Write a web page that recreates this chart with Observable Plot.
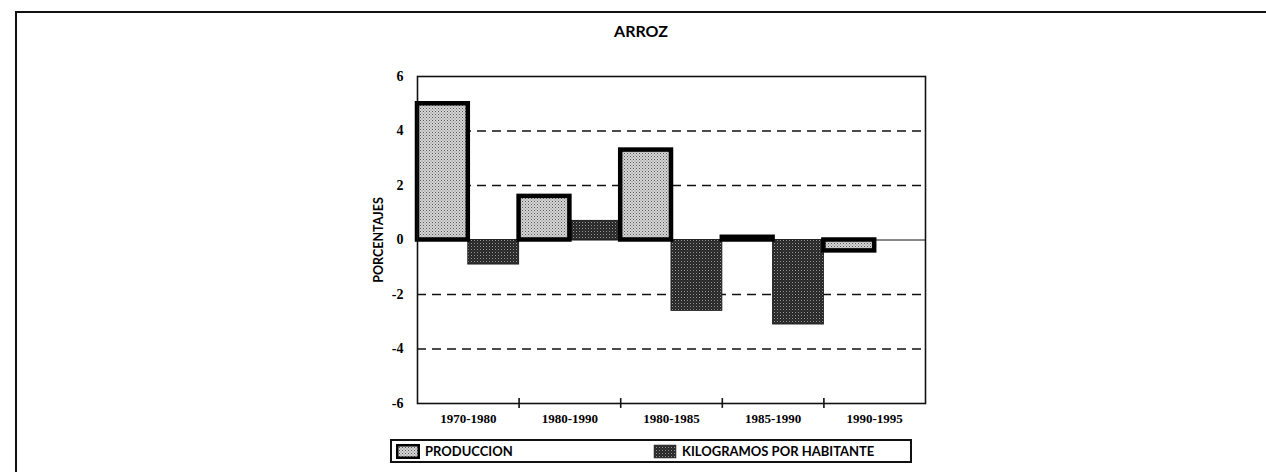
<!DOCTYPE html>
<html>
<head>
<meta charset="utf-8">
<script src="https://cdn.jsdelivr.net/npm/d3@7"></script>
<script src="https://cdn.jsdelivr.net/npm/@observablehq/plot@0.6"></script>
<style>
  html, body { margin: 0; padding: 0; background: #fff; }
  #wrap { position: relative; width: 1266px; height: 472px; overflow: hidden; background: #fff; }
  #frame { position: absolute; left: 15px; top: 11px; width: 1300px; height: 500px;
           border-top: 2px solid #111; border-left: 2px solid #111; }
  #title { position: absolute; left: 541px; width: 200px; top: 21px; text-align: center;
           font: bold 16px Lato, "Open Sans", sans-serif; color: #000; }
  #chart { position: absolute; left: 0; top: 0; }
  #legend { position: absolute; left: 390px; top: 439px; width: 522px; height: 24px;
            border: 2px solid #111; box-sizing: border-box; font: bold 13px Lato, "Open Sans", sans-serif; }
  .item { position: absolute; top: 2px; height: 16px; display: flex; align-items: center; white-space: nowrap; }
  .item svg { margin-right: 5px; }
</style>
</head>
<body>
<div id="wrap">
  <div id="frame"></div>
  <div id="title">ARROZ</div>
  <div id="chart"></div>
  <div id="legend"></div>
</div>
<script>
// ---- data ----
const categories = ["1970-1980", "1980-1990", "1980-1985", "1985-1990", "1990-1995"];
const produccion = [5.0, 1.6, 3.3, 0.1, -0.4];
const kilogramos = [-0.9, 0.7, -2.6, -3.1, null];
const seriesNames = ["PRODUCCION", "KILOGRAMOS POR HABITANTE"];
const yTicks = [-6, -4, -2, 0, 2, 4, 6];
const gridValues = [-4, -2, 2, 4];

const prodRows = categories.map((c, i) => ({cat: c, i, v: produccion[i]})).filter(d => d.v != null);
const kgRows = categories.map((c, i) => ({cat: c, i, v: kilogramos[i]})).filter(d => d.v != null);
const centers = categories.map((c, i) => i + 0.5);
const bounds = categories.slice(1).map((c, i) => i + 1);

const chart = Plot.plot({
  width: 1266,
  height: 472,
  marginLeft: 417,
  marginRight: 341,
  marginTop: 76,
  marginBottom: 69,
  style: {fontFamily: "'Liberation Serif', serif", fontSize: "13px", color: "#000", background: "transparent"},
  x: {domain: [0, categories.length], axis: null},
  y: {domain: [-6, 6], axis: null},
  marks: [
    Plot.ruleY(gridValues, {stroke: "#111", strokeWidth: 1.6, strokeDasharray: "9,6"}),
    Plot.ruleY([0], {stroke: "#111", strokeWidth: 1}),
    Plot.rect(kgRows, {x1: d => d.i + 0.5, x2: d => d.i + 1, y1: 0, y2: "v",
      fill: "url(#kgPat)", stroke: "#222", strokeWidth: 1}),
    Plot.rect(prodRows, {x1: d => d.i, x2: d => d.i + 0.5, y1: 0, y2: "v",
      fill: "url(#prodPat)", stroke: "#000", strokeWidth: 4.5}),
    Plot.frame({stroke: "#111", strokeWidth: 1.6}),
    Plot.ruleX(bounds, {y1: -6.18, y2: -5.82, stroke: "#111", strokeWidth: 1.6}),
    Plot.axisY({ticks: yTicks, tickSize: 0, tickPadding: 14, tickFormat: d => String(d),
      fontWeight: "bold", fontSize: 14, label: null}),
    Plot.axisX({ticks: centers, tickSize: 0, tickPadding: 10, tickFormat: (d) => categories[Math.floor(d)],
      fontWeight: "bold", fontSize: 13, label: null}),
    Plot.text(["PORCENTAJES"], {text: d => d, frameAnchor: "left", dx: -39, rotate: -90, textAnchor: "middle",
      fontFamily: "Lato, 'Open Sans', sans-serif", fontWeight: "bold", fontSize: 12.5})
  ]
});

// texture patterns for the bars
const ns = "http://www.w3.org/2000/svg";
const defs = document.createElementNS(ns, "defs");
defs.innerHTML = `
  <pattern id="prodPat" width="3" height="3" patternUnits="userSpaceOnUse">
    <rect width="3" height="3" fill="#d6d6d6"/>
    <rect x="0" y="0" width="1" height="1" fill="#555"/>
    <rect x="1.5" y="1.5" width="1" height="1" fill="#777"/>
  </pattern>
  <pattern id="kgPat" width="3" height="3" patternUnits="userSpaceOnUse">
    <rect width="3" height="3" fill="#262626"/>
    <rect x="0" y="0" width="1" height="1" fill="#9a9a9a"/>
    <rect x="1.5" y="1.5" width="1" height="1" fill="#555"/>
  </pattern>`;
chart.insertBefore(defs, chart.firstChild);
document.getElementById("chart").appendChild(chart);

// legend
const legend = document.getElementById("legend");
const fills = ["url(#prodPat)", "url(#kgPat)"];
const strokes = ["#000", "#222"];
const lefts = [4, 261];
seriesNames.forEach((name, k) => {
  const item = document.createElement("div");
  item.className = "item";
  item.style.left = lefts[k] + "px";
  item.innerHTML = `<svg width="24" height="15"><rect x="1.25" y="1.25" width="21.5" height="12.5"
    fill="${fills[k]}" stroke="${strokes[k]}" stroke-width="${k === 0 ? 2.5 : 1}"/></svg><span>${name}</span>`;
  legend.appendChild(item);
});
</script>
</body>
</html>
